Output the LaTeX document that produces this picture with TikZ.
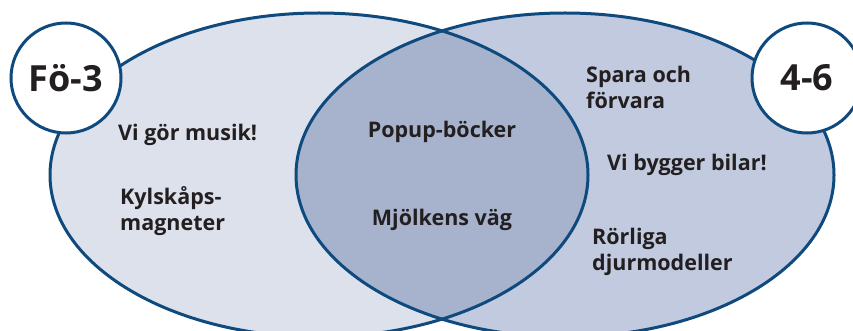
\documentclass[tikz,border=0pt]{standalone}
\usepackage{fontspec}
\setmainfont{Open Sans}
\usetikzlibrary{positioning}
\definecolor{vennblue}{HTML}{0E4A7E}
\definecolor{leftfill}{HTML}{DDE1EC}
\definecolor{rightfill}{HTML}{C1CADF}
\definecolor{bothfill}{HTML}{A7B3CD}
\definecolor{txt}{HTML}{231F20}
\begin{document}
\begin{tikzpicture}[x=1pt,y=-1pt,
  set line/.style={draw=vennblue,line width=3pt},
  age node/.style={circle,draw=vennblue,line width=3pt,fill=white,minimum size=110pt,inner sep=0pt,text=txt,font=\fontsize{36}{40}\selectfont\bfseries},
  item/.style={align=left,anchor=west,inner sep=0pt,text=txt,font=\fontsize{21.5}{26}\selectfont\bfseries},
  mid item/.style={align=center,inner sep=0pt,text=txt,font=\fontsize{21.5}{26}\selectfont\bfseries}]
		
		\useasboundingbox (0,0) rectangle (853,331);
		
		% the two sets and their overlap
		\fill[leftfill] (319,175) ellipse [x radius=269pt, y radius=162pt];
		\fill[rightfill] (565,175) ellipse [x radius=269pt, y radius=162pt];
		\begin{scope}
		\clip (319,175) ellipse [x radius=269pt, y radius=162pt];
		\fill[bothfill] (565,175) ellipse [x radius=269pt, y radius=162pt];
		\end{scope}
		\draw[set line] (319,175) ellipse [x radius=269pt, y radius=162pt];
		\draw[set line] (565,175) ellipse [x radius=269pt, y radius=162pt];
		
		\node[age node] at (66,78) (young) {Fö-3};
		\node[age node] at (807,78) (old) {4-6};
		
		\node[item] at (118,135) (music) {Vi gör musik!};
		\node[item] at (120,211) (magnets) {Kylskåps-\\magneter};
		\node[mid item] at (442,132) (popup) {Popup-böcker};
		\node[mid item] at (442,220) (milk) {Mjölkens väg};
		\node[item] at (586,87) (store) {Spara och\\förvara};
		\node[item] at (607,165) (cars) {Vi bygger bilar!};
		\node[item] at (592,252) (animals) {Rörliga\\djurmodeller};
		
		\end{tikzpicture}
\end{document}
